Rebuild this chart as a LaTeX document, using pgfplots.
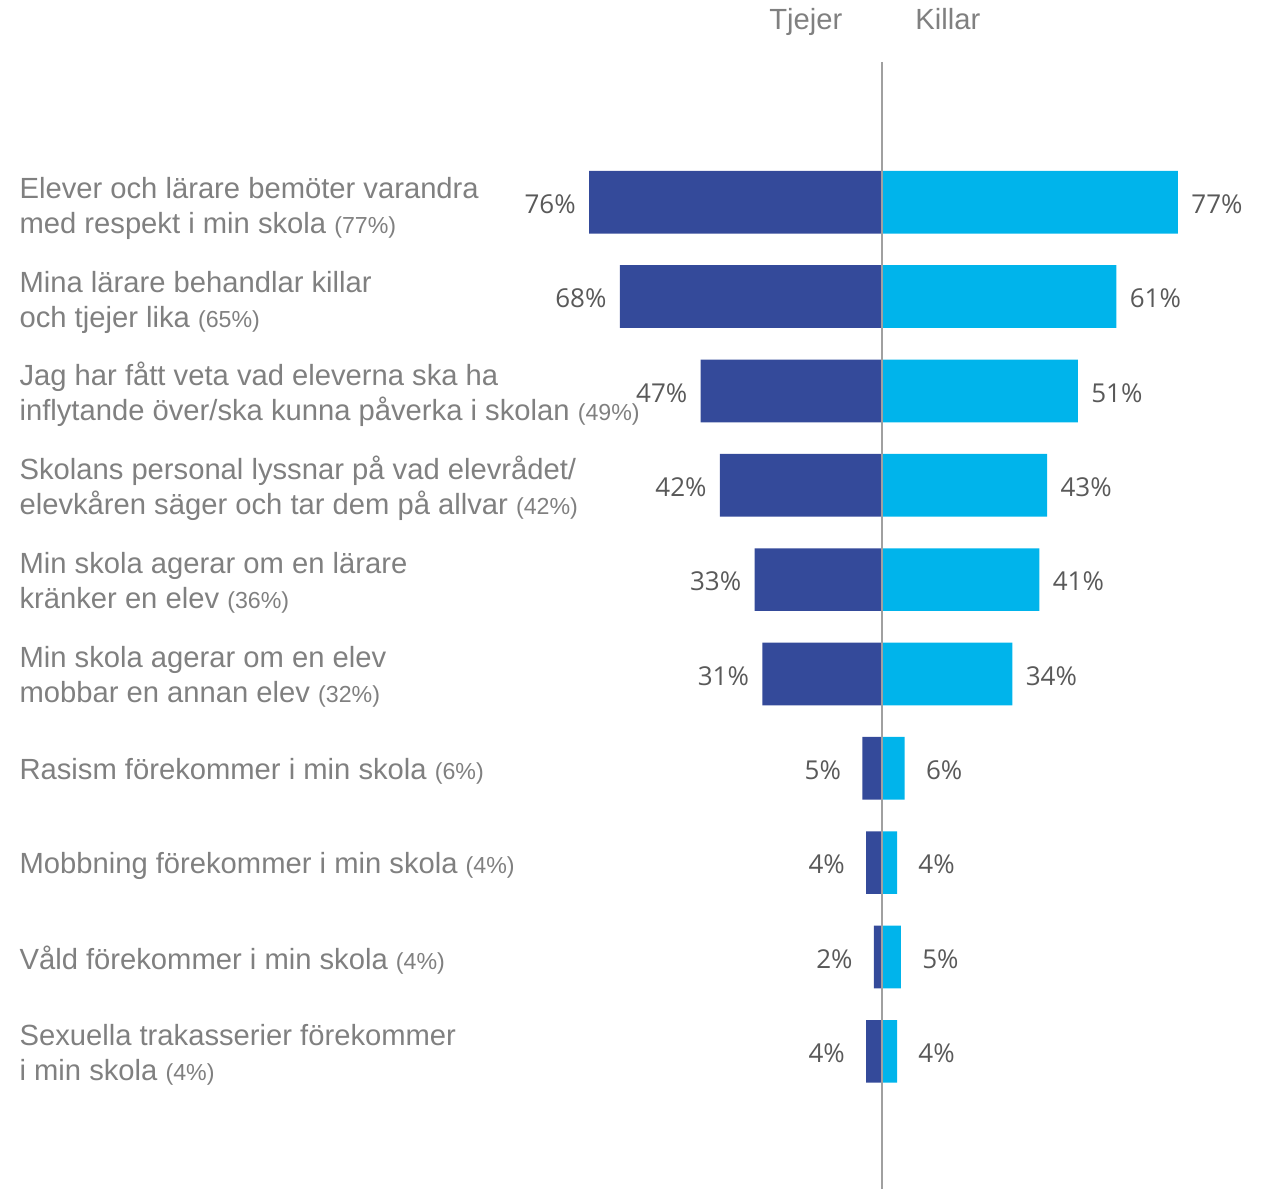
\documentclass[border=0pt]{standalone}
\usepackage{fontspec}
\setmainfont{Liberation Sans}
\newfontfamily\valfont{Open Sans}
\usepackage{pgfplots}
\pgfplotsset{compat=1.18}
\usepackage{pgfplotstable}
\definecolor{tjcol}{HTML}{344A9A}
\definecolor{kicol}{HTML}{00B4EB}
\definecolor{labgray}{HTML}{808080}
\definecolor{valgray}{HTML}{595959}
\definecolor{linegray}{HTML}{A0A0A0}

\pgfplotstableread{
y t k
1 76 77
2 68 61
3 47 51
4 42 43
5 33 41
6 31 34
7 5 6
8 4 4
9 2 5
10 4 4
}\data

\newcommand{\pc}[1]{{\fontsize{11.6}{14}\selectfont(#1\%)}}
\newcommand{\up}{\rule{0pt}{13.7pt}}

\begin{document}
\begin{tikzpicture}
\begin{axis}[
  scale only axis, width=631pt, height=594.5pt,
  xmin=-229.0, xmax=98.78,
  ymin=-1.1435, ymax=11.455, y dir=reverse,
  axis line style={draw=none},
  xtick=\empty,
  ytick={1,2,3,4,5,6,7,8,9,10},
  major tick length=0pt,
  yticklabels={
    {\up Elever och lärare bemöter varandra\\med respekt i min skola \pc{77}},
    {\up Mina lärare behandlar killar\\och tjejer lika \pc{65}},
    {Jag har fått veta vad eleverna ska ha\\inflytande över/ska kunna påverka i skolan \pc{49}},
    {Skolans personal lyssnar på vad elevrådet/\\elevkåren säger och tar dem på allvar \pc{42}},
    {Min skola agerar om en lärare\\kränker en elev \pc{36}},
    {Min skola agerar om en elev\\mobbar en annan elev \pc{32}},
    {Rasism förekommer i min skola \pc{6}},
    {Mobbning förekommer i min skola \pc{4}},
    {Våld förekommer i min skola \pc{4}},
    {Sexuella trakasserier förekommer\\i min skola \pc{4}}
  },
  yticklabel style={anchor=west, xshift=9.5pt, yshift=-1.5pt, inner sep=0pt, align=left, text=labgray, font=\fontsize{14.6}{17.5}\selectfont},
  xbar, bar width=31.35pt, bar shift=0pt,
  clip=false,
  point meta=explicit symbolic,
  nodes near coords={\pgfplotspointmeta\%},
  every node near coord/.append style={font=\valfont\fontsize{13}{15}\selectfont, text=valgray, inner sep=0pt, yshift=-1pt},
]
\addplot[fill=tjcol, draw=none, restrict y to domain=1:6,
  every node near coord/.append style={anchor=east, xshift=-6.5pt}]
  table[x expr=-\thisrow{t}, y=y, meta=t] {\data};
\addplot[fill=tjcol, draw=none, restrict y to domain=7:10,
  every node near coord/.append style={anchor=east, xshift=-10.5pt}]
  table[x expr=-\thisrow{t}, y=y, meta=t] {\data};
\addplot[fill=kicol, draw=none, restrict y to domain=1:6,
  every node near coord/.append style={anchor=west, xshift=6.5pt}]
  table[x=k, y=y, meta=k] {\data};
\addplot[fill=kicol, draw=none, restrict y to domain=7:10,
  every node near coord/.append style={anchor=west, xshift=10.5pt}]
  table[x=k, y=y, meta=k] {\data};
\draw[linegray, line width=1pt] (axis cs:0,-0.4865) -- (axis cs:0,11.455);
\node[anchor=base, text=labgray, font=\fontsize{14.6}{17.5}\selectfont, inner sep=0pt] at (axis cs:-19.7,-0.833) {Tjejer};
\node[anchor=base, text=labgray, font=\fontsize{14.6}{17.5}\selectfont, inner sep=0pt] at (axis cs:17.2,-0.833) {Killar};
\end{axis}
\end{tikzpicture}
\end{document}
